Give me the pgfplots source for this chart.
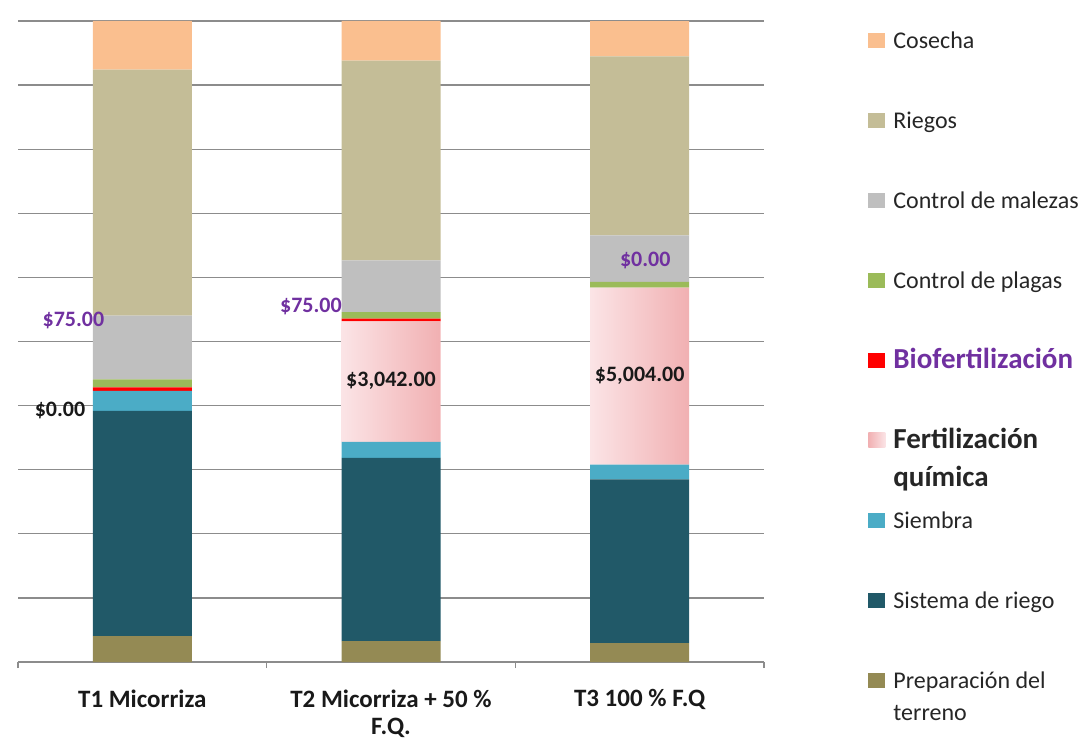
\documentclass[border=0pt]{standalone}
\usepackage{pgfplots}
\pgfplotsset{compat=1.18}
\usepackage{pgfplotstable}
\usepackage{fontspec}
\setmainfont{Carlito}

% Colores de cada rubro de costo
\definecolor{cCosecha}{RGB}{250,191,143}
\definecolor{cRiegos}{RGB}{196,189,151}
\definecolor{cMalezas}{RGB}{191,191,191}
\definecolor{cPlagas}{RGB}{155,187,89}
\definecolor{cBio}{RGB}{255,0,0}
\definecolor{cFertL}{RGB}{251,228,230}
\definecolor{cFertR}{RGB}{241,176,178}
\definecolor{cSiembra}{RGB}{75,172,198}
\definecolor{cSistema}{RGB}{33,89,104}
\definecolor{cPrep}{RGB}{148,138,84}
\definecolor{cMorado}{RGB}{112,48,160}
\definecolor{cGrid}{RGB}{140,140,140}

% Las barras de fertilizacion (T2 y T3) forman un solo trazo: el degradado
% se repite en el tramo horizontal de cada barra
\pgfdeclarehorizontalshading{fertgrad}{100bp}{%
  color(0bp)=(cFertL); color(25bp)=(cFertL); color(39.24bp)=(cFertR);
  color(39.34bp)=(cFertL); color(60.76bp)=(cFertL); color(75bp)=(cFertR);
  color(100bp)=(cFertR)}

\pgfplotsset{
  cuadro/.style={legend image code/.code={\fill[##1] (0pt,-3.75pt) rectangle (8.5pt,3.75pt);}},
}
\tikzset{
  etiqueta/.style={font=\fontsize{11}{13}\selectfont\bfseries, inner sep=0pt},
}

% Costos por tratamiento (pesos)
\pgfplotstableread{
idx Prep Sist Siem FertQ Bio Plagas Malezas Riegos Cosecha
0   530  4630 410  0     75  160    1310    5055   1000
1   530  4630 410  3042  75  160    1310    5055   1000
2   530  4630 410  5004  0   160    1310    5055   1000
}\costos
\pgfplotstablecreatecol[create col/expr={\thisrow{Prep}+\thisrow{Sist}+\thisrow{Siem}+\thisrow{FertQ}+\thisrow{Bio}+\thisrow{Plagas}+\thisrow{Malezas}+\thisrow{Riegos}+\thisrow{Cosecha}}]{Total}\costos
% Porcentaje de cada rubro sobre el costo total
\pgfplotstablecreatecol[create col/expr={100*\thisrow{Prep}/\thisrow{Total}}]{PPrep}\costos
\pgfplotstablecreatecol[create col/expr={100*\thisrow{Sist}/\thisrow{Total}}]{PSist}\costos
\pgfplotstablecreatecol[create col/expr={100*\thisrow{Siem}/\thisrow{Total}}]{PSiem}\costos
\pgfplotstablecreatecol[create col/expr={100*\thisrow{FertQ}/\thisrow{Total}}]{PFertQ}\costos
\pgfplotstablecreatecol[create col/expr={100*\thisrow{Bio}/\thisrow{Total}}]{PBio}\costos
\pgfplotstablecreatecol[create col/expr={100*\thisrow{Plagas}/\thisrow{Total}}]{PPlagas}\costos
\pgfplotstablecreatecol[create col/expr={100*\thisrow{Malezas}/\thisrow{Total}}]{PMalezas}\costos
\pgfplotstablecreatecol[create col/expr={100*\thisrow{Riegos}/\thisrow{Total}}]{PRiegos}\costos
\pgfplotstablecreatecol[create col/expr={100*\thisrow{Cosecha}/\thisrow{Total}}]{PCosecha}\costos

\begin{document}
\begin{tikzpicture}
\useasboundingbox (0,0) rectangle (545.5pt,370pt);
\begin{axis}[
  at={(9pt,39pt)}, anchor=south west,
  scale only axis, width=373pt, height=320.5pt,
  xmin=-0.5, xmax=2.5, ymin=0, ymax=100,
  ybar stacked, bar width=49.5pt,
  axis x line*=bottom, axis y line*=left,
  y axis line style={draw=none},
  x axis line style={cGrid, line width=0.6pt},
  xtick={0,1,2},
  xticklabels={T1 Micorriza, {T2 Micorriza + 50 \%\\F.Q.}, T3 100 \% F.Q},
  xticklabel style={align=center, font=\fontsize{12.5}{13.5}\selectfont\bfseries, text=black!90, yshift=-6pt},
  major x tick style={draw=none},
  minor xtick={-0.5,0.5,1.5,2.5},
  minor x tick style={cGrid, line width=0.6pt},
  minor tick length=3pt,
  tick align=outside,
  ytick={0,10,...,100}, yticklabels={},
  major y tick style={draw=none},
  ymajorgrids, grid style={cGrid, line width=0.6pt},
  legend cell align=left, reverse legend,
  legend style={at={(1.1394,0.98237)}, anchor=north west, draw=none, fill=none,
    inner sep=0pt, row sep=32.3pt, column sep=4pt,
    nodes={inner sep=0pt, text height=7.7pt, text depth=0pt,
      font=\fontsize{12}{16}\selectfont, text=black!85}},
]
\addplot[cuadro, fill=cPrep, draw=none] table[x=idx, y=PPrep] {\costos};
\addlegendentry{\parbox[t]{4cm}{Preparación del\\terreno}}
\addplot[cuadro, fill=cSistema, draw=none] table[x=idx, y=PSist] {\costos};
\addlegendentry{Sistema de riego}
\addplot[cuadro, fill=cSiembra, draw=none] table[x=idx, y=PSiem] {\costos};
\addlegendentry{Siembra}
\addplot[draw=none, shade, shading=fertgrad,
  legend image code/.code={\shade[left color=cFertR, right color=cFertL] (0pt,-3.75pt) rectangle (8.5pt,3.75pt);}]
  table[x=idx, y=PFertQ] {\costos};
\addlegendentry{\parbox[t]{4cm}{\fontsize{14.5}{19}\selectfont\bfseries Fertilización\\química}}
\addplot[cuadro, fill=cBio, draw=none] table[x=idx, y=PBio] {\costos};
\addlegendentry{\fontsize{14.5}{17}\selectfont\bfseries\textcolor{cMorado}{Biofertilización}}
\addplot[cuadro, fill=cPlagas, draw=none] table[x=idx, y=PPlagas] {\costos};
\addlegendentry{Control de plagas}
\addplot[cuadro, fill=cMalezas, draw=none] table[x=idx, y=PMalezas] {\costos};
\addlegendentry{Control de malezas}
\addplot[cuadro, fill=cRiegos, draw=none] table[x=idx, y=PRiegos] {\costos};
\addlegendentry{Riegos}
\addplot[cuadro, fill=cCosecha, draw=none] table[x=idx, y=PCosecha] {\costos};
\addlegendentry{Cosecha}

% Posiciones de las etiquetas de valores
\coordinate (e1) at (axis cs:-0.331,39.2);
\coordinate (e2) at (axis cs:-0.277,53.35);
\coordinate (e3) at (axis cs:0.678,55.46);
\coordinate (e4) at (axis cs:1,43.8);
\coordinate (e5) at (axis cs:2,44.7);
\coordinate (e6) at (axis cs:2.0226,62.71);
\end{axis}
% Etiquetas de valores, sobre las barras
\node[etiqueta, text=black!90] at (e1) {\$0.00};
\node[etiqueta, text=cMorado] at (e2) {\$75.00};
\node[etiqueta, text=cMorado] at (e3) {\$75.00};
\node[etiqueta, text=black!90] at (e4) {\$3,042.00};
\node[etiqueta, text=black!90] at (e5) {\$5,004.00};
\node[etiqueta, text=cMorado] at (e6) {\$0.00};
\end{tikzpicture}
\end{document}
